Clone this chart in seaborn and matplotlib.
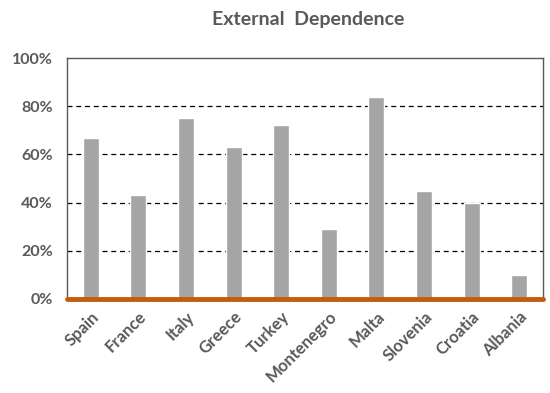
import matplotlib
matplotlib.use("Agg")
import matplotlib.pyplot as plt
import seaborn as sns
import pandas as pd
from matplotlib.ticker import FuncFormatter

countries = ["Spain", "France", "Italy", "Greece", "Turkey",
             "Montenegro", "Malta", "Slovenia", "Croatia", "Albania"]
dependence = [0.67, 0.43, 0.75, 0.63, 0.72, 0.29, 0.84, 0.45, 0.40, 0.10]
y_ticks = [0.0, 0.2, 0.4, 0.6, 0.8, 1.0]

sns.set_style("white")
plt.rcParams["font.family"] = ["Lato", "DejaVu Sans"]

df = pd.DataFrame({"country": countries, "dependence": dependence})

fig = plt.figure(figsize=(5.5, 3.93), dpi=100)
ax = fig.add_axes([67 / 550, 1 - 299 / 393, 476 / 550, 241 / 393])

sns.barplot(data=df, x="country", y="dependence", color="#A5A5A5",
            saturation=1, width=0.34, ax=ax, zorder=3)

ax.set_ylim(0, 1.0)
ax.set_xlim(-0.5, len(countries) - 0.5)
ax.set_yticks(y_ticks)
ax.yaxis.set_major_formatter(FuncFormatter(lambda v, _: f"{v * 100:.0f}%"))
for y in y_ticks[1:-1]:
    ax.axhline(y, color="black", lw=0.9, ls=(0, (4, 3)), zorder=2)

ax.axhline(0, color="#C55A11", lw=3.5, zorder=4, clip_on=False)

for side in ["top", "right", "left", "bottom"]:
    ax.spines[side].set_color("#595959")
    ax.spines[side].set_linewidth(1.0)

ax.set_xlabel("")
ax.set_ylabel("")
ax.tick_params(axis="both", length=0, colors="#595959")
for lbl in ax.get_yticklabels():
    lbl.set_fontsize(11.5)
    lbl.set_fontweight("bold")
for lbl in ax.get_xticklabels():
    lbl.set_fontsize(12)
    lbl.set_fontweight("bold")
    lbl.set_rotation(45)
    lbl.set_ha("right")
    lbl.set_rotation_mode("anchor")
ax.tick_params(axis="x", pad=7)
ax.tick_params(axis="y", pad=10)

fig.text(0.561, 1 - 19 / 393, "External  Dependence", ha="center", va="center",
         fontsize=14, fontweight="bold", color="#595959")

fig.savefig("out.png", dpi=100)
